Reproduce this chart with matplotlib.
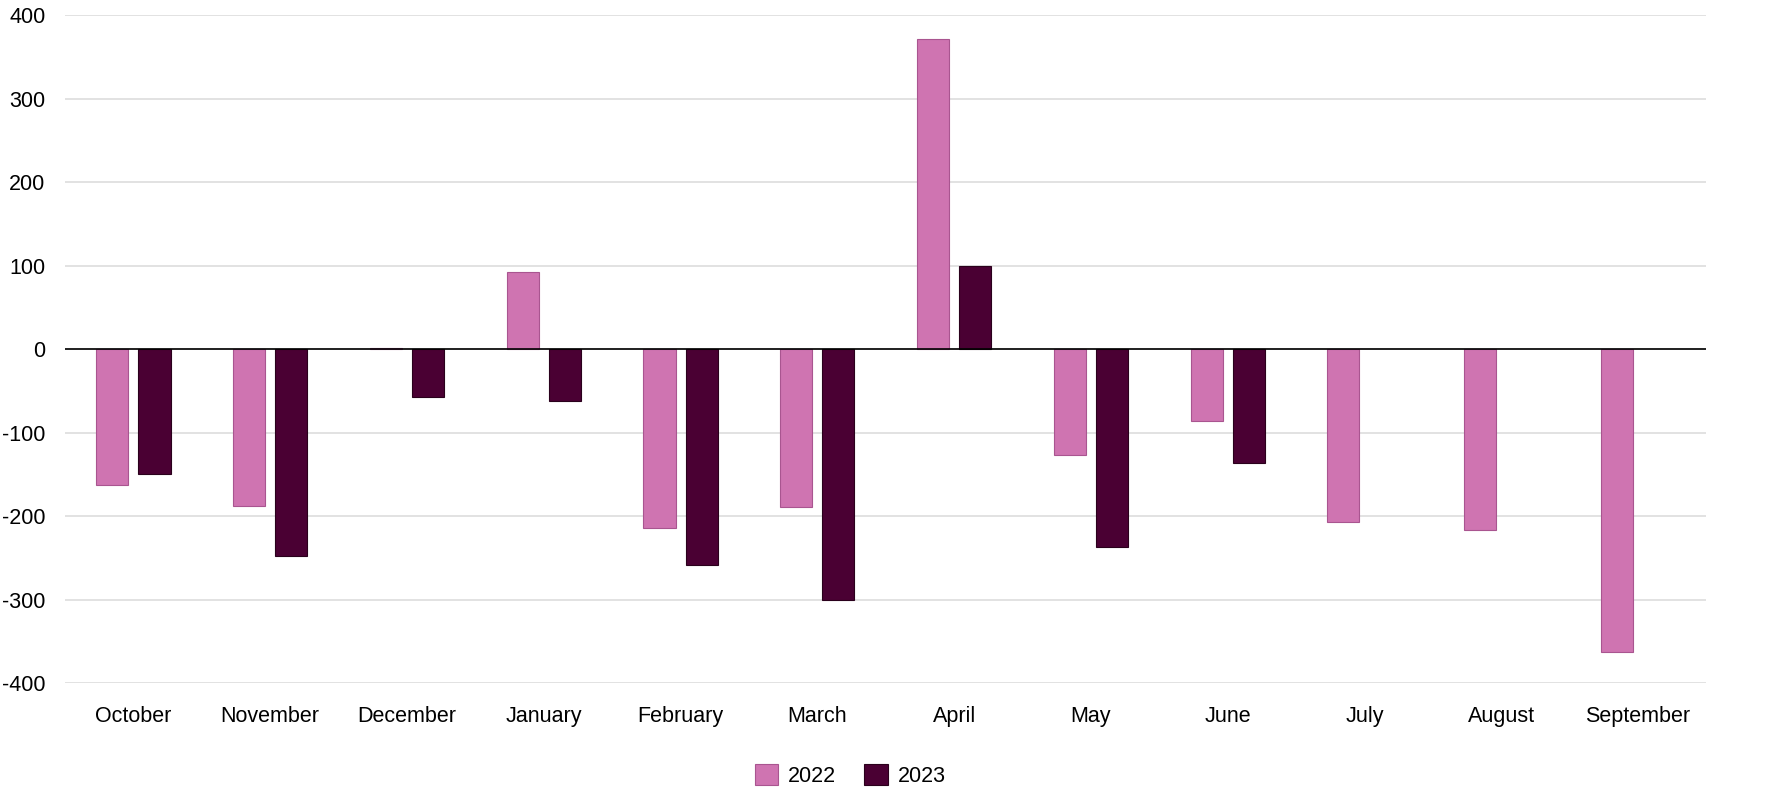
import numpy as np
import matplotlib.pyplot as plt

months = ['October', 'November', 'December', 'January', 'February', 'March',
          'April', 'May', 'June', 'July', 'August', 'September']
vals_2022 = [-163, -188, 1, 92, -214, -189, 371, -127, -86, -207, -217, -363]
vals_2023 = [-149, -247, -57, -62, -258, -300, 100, -237, -136, np.nan, np.nan, np.nan]
yticks = [-400, -300, -200, -100, 0, 100, 200, 300, 400]

plt.rcParams['font.family'] = ['Liberation Sans', 'DejaVu Sans']
plt.rcParams['axes.unicode_minus'] = False

fig = plt.figure(figsize=(17.72, 8.02), dpi=100)
ax = fig.add_axes([0.0367, 0.148, 0.9263, 0.833])

x = np.arange(len(months))
w = 0.235
ax.bar(x - 0.154, vals_2022, w, color='#cf74b1', edgecolor='#a95590',
       linewidth=0.8, label='2022', zorder=3)
ax.bar(x + 0.154, vals_2023, w, color='#4a0033', edgecolor='#2a001c',
       linewidth=0.8, label='2023', zorder=3)

ax.axhline(0, color='black', linewidth=1.2, zorder=4)
ax.set_ylim(-400, 400)
ax.set_xlim(-0.5, len(months) - 0.5)
ax.set_yticks(yticks)
ax.set_xticks(x)
ax.set_xticklabels(months)
ax.tick_params(axis='both', length=0, labelsize=15.5, colors='black')
ax.tick_params(axis='y', pad=14)
ax.tick_params(axis='x', pad=16)
ax.yaxis.grid(True, color='#dddddd', linewidth=1.2, zorder=0)
ax.set_axisbelow(True)
for s in ax.spines.values():
    s.set_visible(False)

fig.legend(loc='center', bbox_to_anchor=(0.4797, 0.033), ncol=2, frameon=False,
           fontsize=15.5, handlelength=1.1, handleheight=1.1, columnspacing=1.3,
           handletextpad=0.45)

fig.savefig('out.png', dpi=100)
